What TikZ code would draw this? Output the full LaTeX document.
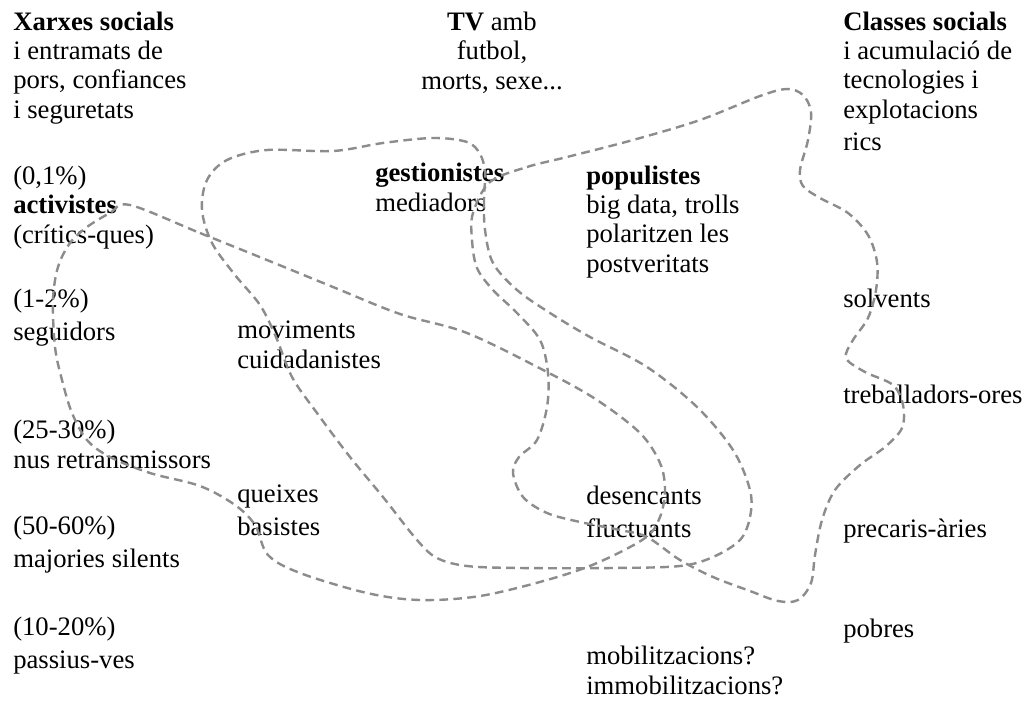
\documentclass[tikz,border=0pt]{standalone}
\usepackage{fontspec}
\setmainfont{Liberation Serif}
\usepackage{tikz}

\definecolor{blobgray}{HTML}{8C8C8C}

\tikzset{
  lbl/.style = {anchor=base west, align=left, inner sep=0pt, font=\fontsize{20}{22}\selectfont},
  wide/.style = {font=\fontsize{20}{24.5}\selectfont},
  blob/.style = {draw=blobgray, line width=1.8pt, dash pattern=on 6.5pt off 4pt}
}

\begin{document}
\begin{tikzpicture}[x=0.75pt, y=-0.75pt]
\fill[white] (0,0) rectangle (1027,700);
\useasboundingbox (0,0) rectangle (1027,700);

% columns (nodes sit on the baseline of their last line)
\node[lbl] (xarxes) at (13,118) {\textbf{Xarxes socials}\\i entramats de\\pors, confiances\\i seguretats};
\node[lbl, anchor=base, align=center] (tv) at (492,89) {\textbf{TV} amb\\futbol,\\morts, sexe...};
\node[lbl] (classes) at (843,118) {\textbf{Classes socials}\\i acumulació de\\tecnologies i\\explotacions};

% left: xarxes
\node[lbl] (activ) at (13,243) {(0,1\%)\\\textbf{activistes}\\(crítics-ques)};
\node[lbl, wide] (segu) at (13,340) {(1-2\%)\\seguidors};
\node[lbl] (nus) at (13,468) {(25-30\%)\\nus retransmissors};
\node[lbl, wide] (majo) at (13,567) {(50-60\%)\\majories silents};
\node[lbl, wide] (pass) at (13,668) {(10-20\%)\\passius-ves};

% middle
\node[lbl] (movi) at (237,368) {moviments\\cuidadanistes};
\node[lbl, wide] (queix) at (237,535) {queixes\\basistes};
\node[lbl] (gest) at (375,211) {\textbf{gestionistes}\\mediadors};
\node[lbl] (popu) at (586,272) {\textbf{populistes}\\big data, trolls\\polaritzen les\\postveritats};
\node[lbl, wide] (desen) at (586,537) {desencants\\fluctuants};
\node[lbl] (mobi) at (586,694) {mobilitzacions?\\immobilitzacions?};

% right: classes
\node[lbl] (rics) at (843,150) {rics};
\node[lbl] (solv) at (843,307) {solvents};
\node[lbl] (treb) at (843,403) {treballadors-ores};
\node[lbl] (prec) at (843,537) {precaris-àries};
\node[lbl] (pobr) at (843,637) {pobres};

% activistes
\draw[blob] plot[smooth cycle, tension=0.55] coordinates {
  (130,205) (200,233) (267,260) (333,287) (400,314) (467,333) (547,372)
  (597,400) (640,433) (660,463) (665,490) (660,517) (645,538) (597,563)
  (547,580) (480,596) (420,600) (367,593) (300,573) (268,555) (255,525)
  (235,505) (200,486) (150,473) (110,457) (87,440) (72,413) (62,380)
  (55,347) (53,300) (58,267) (70,243) (87,227) (110,213)};

% moviments / gestionistes
\draw[blob] plot[smooth cycle, tension=0.55] coordinates {
  (485,172) (484,200) (485,230) (493,263) (517,290) (550,313) (590,337)
  (647,367) (697,407) (733,450) (750,490) (750,517) (740,540) (713,557)
  (680,566) (613,568) (520,568) (467,566) (437,558) (417,540) (383,497)
  (350,457) (317,413) (292,377) (276,337) (260,305) (235,275) (212,243)
  (202,210) (207,180) (227,160) (267,150) (333,151) (383,143) (433,138)
  (467,142) (480,154)};

% populistes
\draw[blob] plot[smooth cycle, tension=0.55] coordinates {
  (490,182) (527,167) (567,157) (633,140) (700,120) (760,96) (787,89)
  (803,95) (811,112) (808,140) (800,170) (803,186) (820,198) (848,213)
  (868,235) (877,262) (876,290) (868,318) (853,340) (846,358) (865,372)
  (893,385) (903,405) (902,428) (885,447) (860,465) (835,490) (822,520)
  (815,555) (811,583) (798,600) (778,601) (750,591) (713,577) (680,560)
  (647,537) (620,530) (580,522) (547,513) (523,497) (513,473) (519,457)
  (537,440) (547,407) (548,373) (540,340) (517,313) (493,290) (477,268)
  (472,240) (473,213)};
\end{tikzpicture}
\end{document}
